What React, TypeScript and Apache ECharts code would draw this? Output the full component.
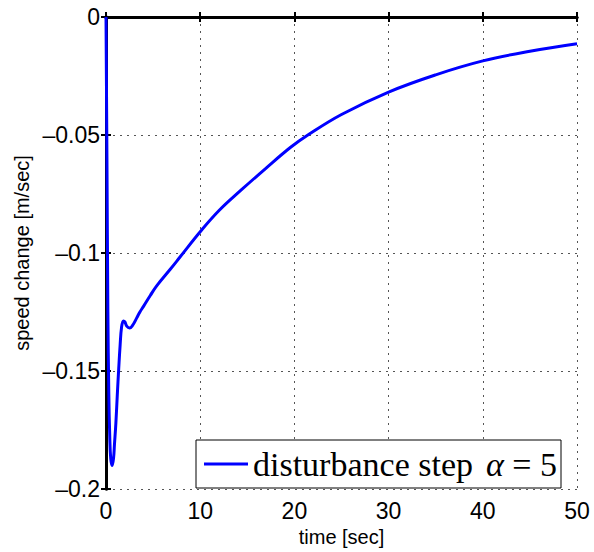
import React, { useEffect, useRef } from "react";
import * as echarts from "echarts";

const times = [0, 0.1, 0.2, 0.3, 0.4, 0.5, 0.65, 0.8, 0.9, 1.05, 1.2, 1.35, 1.5, 1.65, 1.85, 2.0, 2.2, 2.5, 2.8, 3.25, 3.6, 4.0, 4.7, 5.4, 6.8, 7.9, 10, 12, 14.3, 17, 19.6, 21.35, 25, 30, 35, 40, 45, 50];
const speeds = [0, -0.06, -0.125, -0.16, -0.178, -0.187, -0.19, -0.187, -0.181, -0.172, -0.16, -0.149, -0.139, -0.1315, -0.1288, -0.1292, -0.131, -0.1318, -0.1308, -0.1276, -0.125, -0.1225, -0.118, -0.1138, -0.107, -0.1015, -0.091, -0.082, -0.0735, -0.064, -0.0552, -0.0502, -0.0413, -0.0318, -0.0245, -0.0186, -0.0145, -0.0113];
const seriesName = "disturbance step α = 5";
const xTicks = { min: 0, max: 50, interval: 10 };
const yTicks = { min: -0.2, max: 0, interval: 0.05 };

const fmtY = (v: number) => {
  const r = Math.round(v * 1000) / 1000;
  return r === 0 ? "0" : "\u2013" + Math.abs(r);
};

export default function App() {
  const ref = useRef<HTMLDivElement>(null);
  useEffect(() => {
    if (!ref.current) return;
    const chart = echarts.init(ref.current, undefined, { renderer: "svg" });
    const data = times.map((t, i) => [t, speeds[i]]);
    const tickFont = { fontFamily: "Liberation Sans, Arial, sans-serif", fontSize: 23, color: "#000" };
    const dotted = { type: [2, 5] as any, color: "#555", width: 1 };
    const serif = "Liberation Serif, serif";
    chart.setOption({
      animation: false,
      backgroundColor: "#fff",
      grid: { left: 106, top: 17, right: 17, bottom: 55, containLabel: false },
      legend: {
        left: 196,
        top: 440,
        orient: "horizontal",
        backgroundColor: "#fff",
        borderColor: "#000",
        borderWidth: 1,
        padding: [7, 4, 7, 8],
        icon: "rect",
        itemWidth: 44,
        itemHeight: 3,
        formatter: () => "{t|disturbance step}{a|α}{t| = 5}",
        textStyle: {
          rich: {
            t: { fontFamily: serif, fontSize: 34, color: "#000" },
            a: { fontFamily: serif, fontSize: 34, fontStyle: "italic", color: "#000", padding: [0, 0, 0, 13] },
          },
        },
        data: [seriesName],
      },
      xAxis: [
        {
          type: "value",
          min: xTicks.min,
          max: xTicks.max,
          interval: xTicks.interval,
          name: "time [sec]",
          nameLocation: "middle",
          nameGap: 38,
          nameTextStyle: { fontFamily: "Liberation Sans, Arial, sans-serif", fontSize: 20, color: "#000" },
          axisLine: { show: true, lineStyle: { color: "#000", width: 3 } },
          axisTick: { show: true, inside: true, length: 5, lineStyle: { color: "#000", width: 2 } },
          axisLabel: { ...tickFont, margin: 10 },
          splitLine: { show: true, lineStyle: dotted },
        },
        {
          type: "value",
          position: "top",
          min: xTicks.min,
          max: xTicks.max,
          interval: xTicks.interval,
          axisLine: { show: true, lineStyle: { color: "#000", width: 3 } },
          axisTick: { show: true, inside: true, length: 5, lineStyle: { color: "#000", width: 2 } },
          axisLabel: { show: false },
          splitLine: { show: false },
        },
      ],
      yAxis: [
        {
          type: "value",
          min: yTicks.min,
          max: yTicks.max,
          interval: yTicks.interval,
          name: "speed change [m/sec]",
          nameLocation: "middle",
          nameGap: 69,
          nameTextStyle: { fontFamily: "Liberation Sans, Arial, sans-serif", fontSize: 20, color: "#000" },
          axisLine: { show: true, lineStyle: { color: "#000", width: 3 } },
          axisTick: { show: true, inside: true, length: 5, lineStyle: { color: "#000", width: 2 } },
          axisLabel: { ...tickFont, margin: 6, formatter: fmtY },
          splitLine: { show: true, lineStyle: dotted },
        },
        {
          type: "value",
          position: "right",
          min: yTicks.min,
          max: yTicks.max,
          interval: yTicks.interval,
          axisLine: { show: true, lineStyle: { color: "#000", width: 3 } },
          axisTick: { show: true, inside: true, length: 5, lineStyle: { color: "#000", width: 2 } },
          axisLabel: { show: false },
          splitLine: { show: false },
        },
      ],
      series: [
        {
          name: seriesName,
          type: "line",
          data,
          symbol: "none",
          smooth: 0.4,
          lineStyle: { color: "#0000ff", width: 3 },
          itemStyle: { color: "#0000ff" },
        },
      ],
    });
    return () => chart.dispose();
  }, []);
  return (
    <div
      ref={ref}
      style={{ position: "fixed", left: 0, top: 0, width: 594, height: 552 }}
    />
  );
}
